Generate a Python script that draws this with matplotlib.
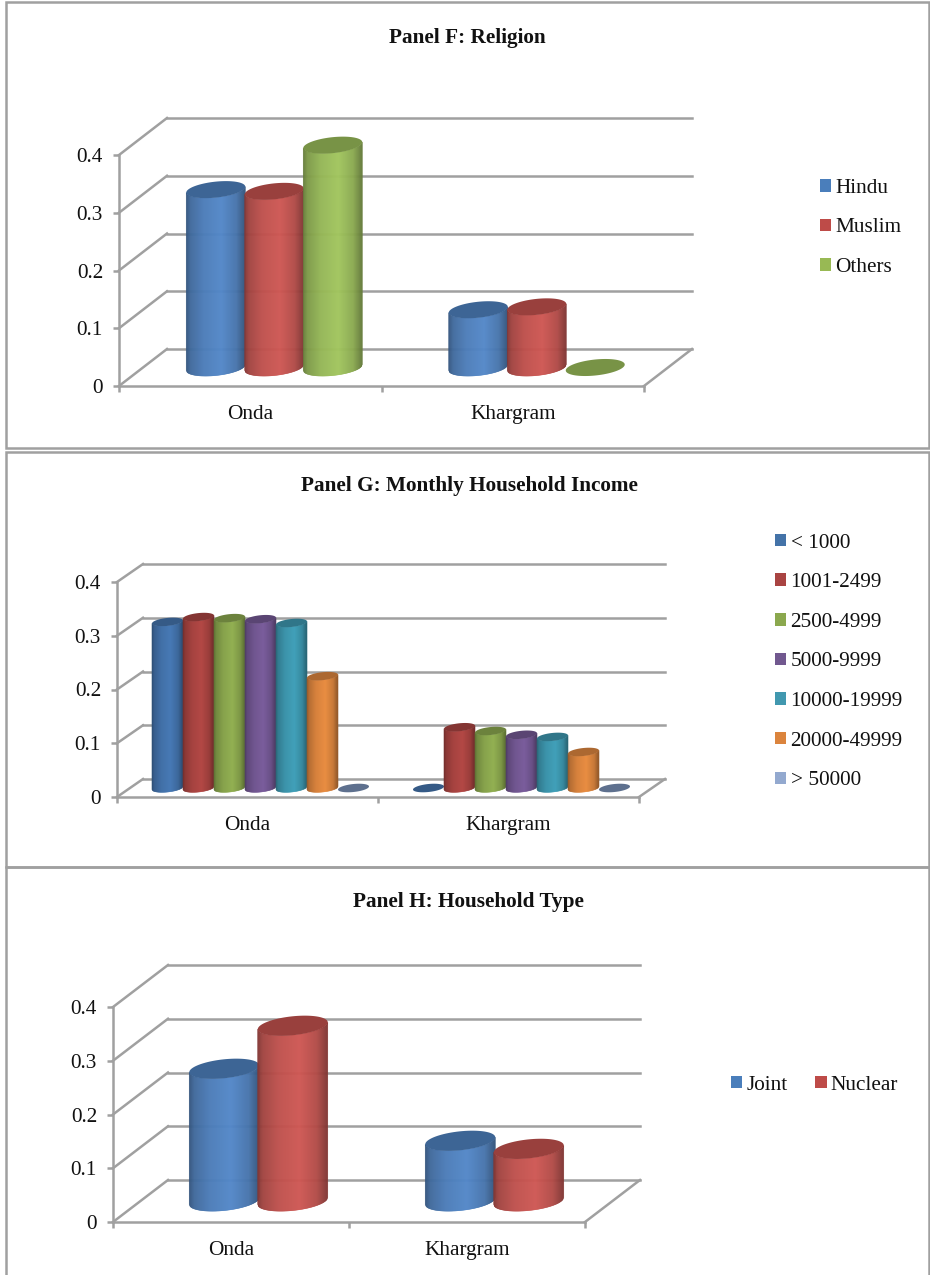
from matplotlib import pyplot as plt
from matplotlib.collections import PolyCollection
from matplotlib.colors import to_rgb
from matplotlib.patches import Patch, Rectangle
import numpy as np

plt.rcParams['font.family'] = ['Liberation Serif', 'DejaVu Serif']

# Values per panel
categories = ['Onda', 'Khargram']
y_ticks = [0, 0.1, 0.2, 0.3, 0.4]
y_tick_labels = ['0', '0.1', '0.2', '0.3', '0.4']

religion_names = ['Hindu', 'Muslim', 'Others']
religion_onda = [0.308, 0.305, 0.385]
religion_khargram = [0.100, 0.105, 0.0]

income_names = ['< 1000', '1001-2499', '2500-4999', '5000-9999',
                '10000-19999', '20000-49999', '> 50000']
income_onda = [0.309, 0.318, 0.316, 0.314, 0.307, 0.208, 0.0]
income_khargram = [0.0, 0.113, 0.106, 0.099, 0.095, 0.067, 0.0]

household_names = ['Joint', 'Nuclear']
household_onda = [0.246, 0.326]
household_khargram = [0.112, 0.097]

# Colours: centre of the cylinder and legend square
bright = ['#5388c9', '#cf5753', '#a2c65e']
bright_key = ['#4a7ebb', '#be4b48', '#98b954']
muted = ['#4779b5', '#b34845', '#92b052', '#7a5d9c', '#41a0b9', '#e98d42', '#7f97c0']
muted_key = ['#4473a8', '#a94442', '#8ba84e', '#71588f', '#4198af', '#db843d', '#93a9cf']

GRID = '#a0a0a0'
W, H = 930, 1275
FS = 15.3


def cylinder(ax, x, value, color, half_w, half_h, tilt, sx, sy, height, z):
    # half_w, half_h are in pixels, sx, sy are pixels per data unit
    base = np.array(to_rgb(color))
    if height > 0:
        edges = np.linspace(-half_w, half_w, int(2 * half_w) + 1)
        polys = []
        cols = []
        for u0, u1 in zip(edges[:-1], edges[1:]):
            um = (u0 + u1) / 2
            low0 = tilt * u0 - half_h * np.sqrt(max(1 - (u0 / half_w) ** 2, 0))
            low1 = tilt * u1 - half_h * np.sqrt(max(1 - (u1 / half_w) ** 2, 0))
            polys.append([(x + u0 / sx, value - height + low0 / sy), (x + u1 / sx, value - height + low1 / sy),
                          (x + u1 / sx, value + low1 / sy), (x + u0 / sx, value + low0 / sy)])
            t = (um + half_w) / (2 * half_w)
            f = np.interp(t, [0, 0.08, 0.3, 0.6, 0.85, 1], [0.62, 0.78, 0.92, 1.0, 0.86, 0.62])
            cols.append(base * f)
        ax.add_collection(PolyCollection(polys, facecolors=cols, edgecolors=cols,
                                         linewidths=0.4, clip_on=False, zorder=z))
    th = np.linspace(0, 2 * np.pi, 80)
    px = half_w * np.cos(th)
    py = half_h * np.sin(th) + tilt * px
    ax.fill(x + px / sx, value + py / sy, color=base * 0.74, lw=0, clip_on=False, zorder=z)


def panel(box, frame, title, title_x, title_y, names, onda, khargram, colors, keys, depth,
          half_h, pitch, legend_pos, ncol, spacing):
    left, top, right, bottom = box
    ax = plt.axes([left / W, 1 - bottom / H, (right - left) / W, (bottom - top) / H])
    ax.set_xlim(0, 2)
    ax.set_ylim(0, 0.4)
    sx = (right - left) / 2
    sy = (bottom - top) / 0.4
    dx = depth[0] / sx
    dy = depth[1] / sy
    ax.patch.set_alpha(0)

    # back wall and floor lines
    for v in y_ticks:
        ax.plot([0, dx], [v, v + dy], color=GRID, lw=1.8, clip_on=False, zorder=1)
        ax.plot([dx, 2 + dx], [v + dy, v + dy], color=GRID, lw=1.8, clip_on=False, zorder=1)
    ax.plot([2, 2 + dx], [0, dy], color=GRID, lw=1.8, clip_on=False, zorder=1)

    # cylinders, later ones sit over earlier ones
    half_w = depth[2]
    for i, vals in enumerate([onda, khargram]):
        for j, v in enumerate(vals):
            off = (j - (len(vals) - 1) / 2) * pitch / sx
            cylinder(ax, i + 0.5 + off + dx / 2, v + dy / 2, colors[j], half_w, half_h,
                     0.1, sx, sy, v, 3 + j * 0.01)

    for s in ['top', 'right']:
        ax.spines[s].set_visible(False)
    for s in ['left', 'bottom']:
        ax.spines[s].set_color(GRID)
        ax.spines[s].set_linewidth(1.8)
    ax.set_yticks(y_ticks)
    ax.set_yticklabels(y_tick_labels, fontsize=FS)
    ax.set_xticks([0, 1, 2])
    ax.set_xticklabels([])
    ax.set_xticks([0.5, 1.5], minor=True)
    ax.set_xticklabels(categories, minor=True, fontsize=FS)
    ax.tick_params(axis='both', which='major', color=GRID, width=1.8, length=4.5, pad=7, labelcolor='#111111')
    ax.tick_params(axis='x', which='minor', length=0, pad=14, labelcolor='#111111')

    fig.text(title_x / W, 1 - title_y / H, title, ha='center', va='center',
             fontsize=FS, fontweight='bold', color='#111111')

    handles = [Patch(facecolor=k, edgecolor='none') for k in keys]
    fig.legend(handles, names, loc='center left', bbox_to_anchor=(legend_pos[0] / W, 1 - legend_pos[1] / H),
               ncol=ncol, frameon=False, fontsize=FS, handlelength=0.53, handleheight=0.53,
               handletextpad=0.2, labelspacing=spacing, columnspacing=1.3, borderpad=0,
               borderaxespad=0, labelcolor='#111111')

    fig.add_artist(Rectangle((frame[0] / W, 1 - frame[3] / H), (frame[2] - frame[0]) / W,
                             (frame[3] - frame[1]) / H, transform=fig.transFigure,
                             fill=False, edgecolor=GRID, lw=1.8, zorder=0))


fig = plt.figure(figsize=(9.3, 12.75), dpi=100)

panel((119, 155, 644, 386), (6, 2, 929, 448), 'Panel F: Religion', 467.5, 37.5,
      religion_names, religion_onda, religion_khargram, bright, bright_key,
      (48, 37, 29.5), 8, 58.5, (820, 228), 1, 0.97)
panel((117, 582, 639, 797), (6, 452, 929, 867), 'Panel G: Monthly Household Income', 469, 485.5,
      income_names, income_onda, income_khargram, muted, muted_key,
      (26, 18, 15.5), 4, 31, (775, 662), 1, 0.97)
panel((113, 1007, 585, 1222), (6, 867, 929, 1285), 'Panel H: Household Type', 468, 902.5,
      household_names, household_onda, household_khargram, bright, bright_key,
      (55, 42, 35), 9.5, 68.5, (731, 1085), 2, 1.0)

plt.savefig('out.png', dpi=100)
